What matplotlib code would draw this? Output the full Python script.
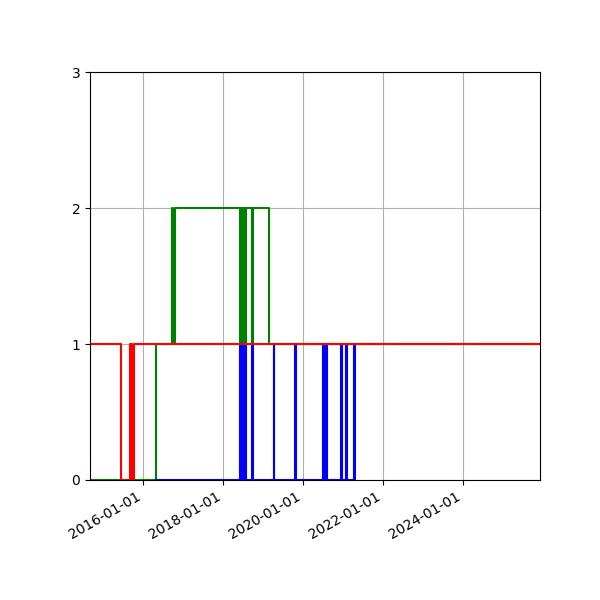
import matplotlib
matplotlib.use("Agg")
import matplotlib.pyplot as plt
import matplotlib.dates as mdates
import pandas as pd

# state changes per series (date, value)
red_dates = ["2014-09-04", "2015-06-11", "2015-09-04", "2015-09-27", "2015-10-11", "2025-12-04"]
red_vals = [1, 0, 1, 0, 1, 1]

green_dates = ["2014-09-04", "2016-05-01", "2016-09-24", "2016-10-05", "2016-10-16",
               "2018-06-03", "2018-06-11", "2018-06-19", "2018-06-27",
               "2018-07-05", "2018-07-12", "2018-07-20", "2018-07-28",
               "2018-09-20", "2018-10-01", "2019-02-27", "2025-12-04"]
green_vals = [0, 1, 2, 1, 2,
              1, 2, 1, 2,
              1, 2, 1, 2,
              1, 2, 1, 1]

blue_dates = ["2016-05-01",
              "2018-06-03", "2018-06-11", "2018-06-19", "2018-06-27",
              "2018-07-05", "2018-07-12", "2018-07-20", "2018-07-28",
              "2018-09-20", "2018-10-01",
              "2019-04-07", "2019-04-13",
              "2019-10-20", "2019-10-26",
              "2020-07-06", "2020-07-15", "2020-07-27", "2020-08-05",
              "2020-12-11", "2020-12-19",
              "2021-01-26", "2021-02-03",
              "2021-04-11", "2021-04-20"]
blue_vals = [0,
             1, 0, 1, 0,
             1, 0, 1, 0,
             1, 0,
             1, 0,
             1, 0,
             1, 0, 1, 0,
             1, 0,
             1, 0,
             1, 0]

fig, ax = plt.subplots(figsize=(6, 6), dpi=100)

ax.plot(pd.to_datetime(green_dates), green_vals, color='g', drawstyle='steps-post')
ax.plot(pd.to_datetime(blue_dates), blue_vals, color='b', drawstyle='steps-post')
ax.plot(pd.to_datetime(red_dates), red_vals, color='r', drawstyle='steps-post')

ax.set_xlim(pd.Timestamp("2014-09-04"), pd.Timestamp("2025-12-04"))
ax.set_ylim(0, 3)
ax.set_yticks([0, 1, 2, 3])
ax.xaxis.set_major_locator(mdates.YearLocator(2))
ax.xaxis.set_major_formatter(mdates.DateFormatter('%Y-%m-%d'))
ax.grid(True)

fig.autofmt_xdate()
fig.subplots_adjust(left=0.15, right=0.9, bottom=0.2, top=0.88)

fig.savefig("out.png")
